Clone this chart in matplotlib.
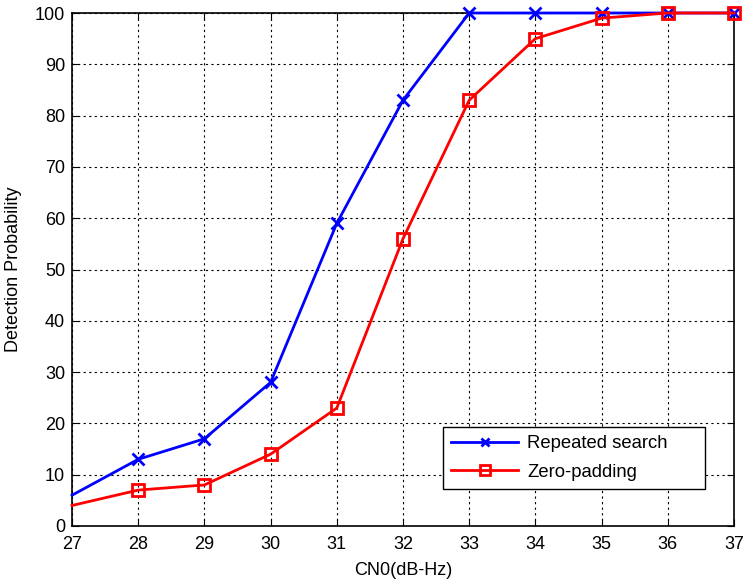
import matplotlib
matplotlib.use("Agg")
import matplotlib.pyplot as plt

plt.rcParams['font.family'] = ['Liberation Sans', 'DejaVu Sans']

cn0 = [27, 28, 29, 30, 31, 32, 33, 34, 35, 36, 37]
repeated = [6, 13, 17, 28, 59, 83, 100, 100, 100, 100, 100]
zero_pad = [4, 7, 8, 14, 23, 56, 83, 95, 99, 100, 100]
xticks = list(range(27, 38))
yticks = list(range(0, 101, 10))

fig = plt.figure(figsize=(7.43, 5.81), dpi=100)
ax = fig.add_axes([72 / 743, 55 / 581, 662 / 743, 513 / 581])

mk = list(range(1, len(cn0)))
ax.plot(cn0, repeated, color='#0000ff', lw=2, marker='x', ms=8, mew=2,
        markevery=mk, label='Repeated search', clip_on=False, zorder=3)
ax.plot(cn0, zero_pad, color='#ff0000', lw=2, marker='s', ms=9, mew=2,
        mfc='none', markevery=mk, label='Zero-padding', clip_on=False, zorder=4)

ax.set_xlim(27, 37)
ax.set_ylim(0, 100)
ax.set_xticks(xticks)
ax.set_yticks(yticks)
ax.tick_params(labelsize=13, direction='in', length=5, top=True, right=True)
ax.tick_params(axis='x', pad=7)
ax.tick_params(axis='y', pad=5)
ax.grid(True, color='black', ls=(0, (2, 3)), lw=0.8)
for s in ax.spines.values():
    s.set_linewidth(1.2)

ax.set_xlabel('CN0(dB-Hz)', fontsize=13, labelpad=7)
ax.set_ylabel('Detection Probability', fontsize=13, labelpad=9)

leg = ax.legend(loc='lower left',
                bbox_to_anchor=((443 - 72) / 662, 0.072, 262 / 662, 0.119),
                mode='expand', fontsize=13.3,
                fancybox=False, framealpha=1, edgecolor='black',
                handlelength=3.6, borderpad=0.45, labelspacing=0.62,
                handletextpad=0.5, markerscale=0.75, borderaxespad=0)
leg.get_frame().set_linewidth(1)

fig.savefig('out.png', dpi=100)
